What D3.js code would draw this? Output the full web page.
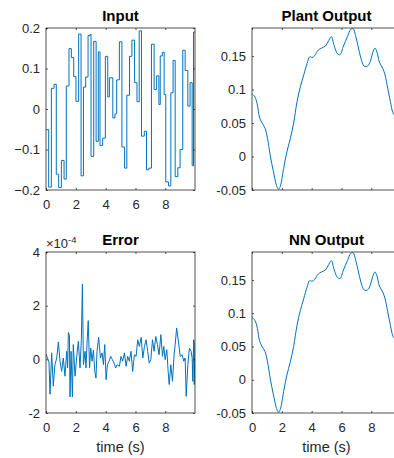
<!DOCTYPE html>
<html>
<head>
<meta charset="utf-8">
<script src="https://cdn.jsdelivr.net/npm/d3@7"></script>
<style>
  body { margin: 0; background: #fff; }
  svg { display: block; font-family: "Liberation Sans", Arial, sans-serif; }
</style>
</head>
<body>
<svg id="chart" width="394" height="458"></svg>
<script>
// ---- data ----
const tEnd = 9.99;

// input: step start times and held values
const inputT = [0, 0.18, 0.36, 0.54, 0.69, 0.85, 1.03, 1.21, 1.36, 1.54, 1.70, 1.86, 2.01, 2.19, 2.35,
  2.51, 2.66, 2.82, 2.95, 3.02, 3.20, 3.36, 3.51, 3.62, 3.80, 3.98, 4.14, 4.25, 4.48, 4.62, 4.74,
  4.92, 5.09, 5.27, 5.42, 5.60, 5.76, 5.94, 6.10, 6.25, 6.40, 6.59, 6.74, 6.90, 7.07, 7.25, 7.42,
  7.57, 7.66, 7.80, 7.92, 8.03, 8.21, 8.37, 8.52, 8.66, 8.84, 8.99, 9.17, 9.33, 9.51, 9.66, 9.80, 9.89];
const inputV = [-0.051, -0.193, 0.051, 0.061, -0.161, -0.194, -0.127, -0.173, 0.057, 0.149, 0.127, 0.08,
  0.019, 0.185, -0.165, 0.054, 0.079, 0.181, 0.184, -0.117, 0.167, -0.08, 0.141, -0.09, -0.072, 0.13,
  0.03, 0.077, -0.022, -0.012, 0.072, 0.166, -0.094, -0.146, 0.034, 0.13, 0.17, 0.065, 0.018, 0.193,
  -0.067, -0.055, -0.15, -0.146, 0.16, 0.048, 0.082, 0.011, 0.131, 0.14, 0.036, -0.18, -0.19, 0.04,
  0.12, -0.167, -0.145, -0.1, 0.145, 0.095, 0.007, 0.065, -0.14, 0.19];

// plant output (NN output is visually the same curve)
const plantT = [0, 0.2, 0.36, 0.5, 0.65, 0.88, 1.04, 1.22, 1.44, 1.67, 1.78, 1.89, 2.12, 2.34, 2.57,
  2.79, 3.02, 3.24, 3.47, 3.69, 3.87, 4.03, 4.21, 4.44, 4.66, 4.93, 5.09, 5.32, 5.5, 5.72, 5.9,
  6.13, 6.4, 6.62, 6.78, 6.96, 7.12, 7.3, 7.52, 7.75, 7.93, 8.09, 8.24, 8.38, 8.54, 8.76, 8.92,
  9.1, 9.28, 9.44, 9.59, 9.99];
const plantV = [0.094, 0.089, 0.077, 0.059, 0.051, 0.042, 0.027, 0.002, -0.023, -0.045, -0.049, -0.045,
  -0.018, 0.007, 0.027, 0.05, 0.082, 0.104, 0.122, 0.139, 0.149, 0.148, 0.151, 0.159, 0.162, 0.165,
  0.171, 0.179, 0.166, 0.154, 0.152, 0.165, 0.179, 0.19, 0.191, 0.179, 0.164, 0.147, 0.135, 0.135,
  0.142, 0.155, 0.162, 0.156, 0.141, 0.132, 0.122, 0.102, 0.082, 0.066, 0.061, 0.056];
const nnV = plantV.slice();

// error, in units of 1e-4
const errT = [0, 0.1, 0.2, 0.27, 0.38, 0.49, 0.6, 0.72, 0.83, 0.94, 1.05, 1.16, 1.27, 1.39, 1.45,
  1.5, 1.57, 1.61, 1.68, 1.77, 1.83, 1.95, 2.06, 2.17, 2.28, 2.37, 2.44, 2.51, 2.62, 2.68, 2.75,
  2.83, 2.92, 3.0, 3.09, 3.18, 3.27, 3.35, 3.42, 3.53, 3.65, 3.76, 3.85, 3.94, 4.03, 4.12, 4.23,
  4.34, 4.45, 4.56, 4.67, 4.78, 4.92, 5.03, 5.14, 5.26, 5.37, 5.48, 5.59, 5.7, 5.81, 5.93, 6.04,
  6.15, 6.26, 6.38, 6.49, 6.6, 6.71, 6.82, 6.92, 7.03, 7.14, 7.25, 7.36, 7.47, 7.58, 7.7, 7.81,
  7.9, 7.99, 8.1, 8.19, 8.26, 8.37, 8.48, 8.59, 8.66, 8.76, 8.89, 9.0, 9.13, 9.24, 9.33, 9.4,
  9.51, 9.62, 9.73, 9.8, 9.84, 9.9, 9.94, 9.99];
const errV = [0.2, 0.05, -0.1, -1.3, 0.24, -1.0, -0.2, 0.05, 0.65, -0.07, -0.45, 0.05, -0.63, 0.3,
  -0.32, 1.0, 0.9, -1.4, 0.3, -1.4, 0.55, -0.63, 0.1, 0.67, -0.32, 0.73, 2.8, -0.2, 0.3, -0.32,
  0.6, 1.44, -0.32, 0.42, -0.07, 0.35, -0.45, -0.7, 0.3, 0.82, 0.05, 0.24, -0.2, 0.55, -0.76,
  -0.2, -0.07, 0.11, -0.01, -0.14, -0.32, -0.2, -0.26, 0.11, -0.07, 0.24, -0.26, 0.11, -0.07,
  0.3, -0.45, 0.17, 0.11, 0.73, 0.48, 0.82, 0.05, 0.48, 0.73, 0.3, -0.14, -0.01, 0.73, 0.3, 0.85,
  0.55, 0.17, 0.92, 0.11, 0.48, -0.01, 0.36, -0.45, -0.94, -0.2, -0.82, 0.17, 0.55, 1.17, 0.6,
  0.11, 0.17, -0.07, 0.05, -1.38, -0.2, 0.42, 0.3, 0.05, -0.82, 0.73, -0.94, 0.67];

const xTicks = [0, 2, 4, 6, 8];
const inputTicks = [-0.2, -0.1, 0, 0.1, 0.2];
const outTicks = [-0.05, 0, 0.05, 0.1, 0.15];
const errTicks = [-2, 0, 2, 4];

// ---- drawing ----
const svg = d3.select('#chart');
const blue = '#0072BD';
const ink = '#262626';
const tl = 2; // tick length, drawn inward

function panel(o) {
  const g = svg.append('g').attr('transform', `translate(${o.x},${o.y})`);
  const x = d3.scaleLinear().domain([0, tEnd]).range([0, o.w]);
  const y = d3.scaleLinear().domain(o.yDomain).range([o.h, 0]);

  const clipId = 'clip' + o.id;
  g.append('clipPath').attr('id', clipId)
    .append('rect').attr('width', o.w).attr('height', o.h);

  const line = d3.line().x(d => x(d[0])).y(d => y(d[1])).curve(o.curve || d3.curveLinear);
  g.append('path')
    .datum(o.data)
    .attr('clip-path', `url(#${clipId})`)
    .attr('fill', 'none')
    .attr('stroke', blue)
    .attr('stroke-width', 1)
    .attr('stroke-linejoin', 'round')
    .attr('d', line);

  // axes with inward ticks on all sides
  const yl = g.append('g')
    .call(d3.axisLeft(y).tickValues(o.yTicks).tickSize(-tl).tickSizeOuter(0).tickPadding(6)
      .tickFormat(o.yFormat || (d => d)));
  const yr = g.append('g').attr('transform', `translate(${o.w},0)`)
    .call(d3.axisRight(y).tickValues(o.yTicks).tickSize(-tl).tickSizeOuter(0).tickFormat(''));
  const xb = g.append('g').attr('transform', `translate(0,${o.h})`)
    .call(d3.axisBottom(x).tickValues(xTicks).tickSize(-tl).tickSizeOuter(0).tickPadding(10)
      .tickFormat(o.xLabels ? (d => d) : ''));
  const xt = g.append('g')
    .call(d3.axisTop(x).tickValues(xTicks).tickSize(-tl).tickSizeOuter(0).tickFormat(''));

  [yl, yr, xb, xt].forEach(a => {
    a.selectAll('.domain').remove();
    a.selectAll('line').attr('stroke', ink).attr('stroke-width', 0.8);
    a.selectAll('text').attr('fill', ink).style('font-size', '13px')
      .style('font-family', '"Liberation Sans", Arial, sans-serif');
  });

  g.append('rect')
    .attr('width', o.w).attr('height', o.h)
    .attr('fill', 'none').attr('stroke', ink).attr('stroke-width', 0.8);

  g.append('text')
    .attr('x', o.w / 2).attr('y', -7)
    .attr('text-anchor', 'middle')
    .style('font-size', '15px').style('font-weight', 'bold')
    .attr('fill', '#000')
    .text(o.title);

  if (o.xTitle) {
    g.append('text')
      .attr('x', o.w / 2).attr('y', o.h + 39)
      .attr('text-anchor', 'middle')
      .style('font-size', '14.5px')
      .attr('fill', ink)
      .text(o.xTitle);
  }
  return g;
}

const inputPts = inputT.map((t, i) => [t, inputV[i]]);
inputPts.push([tEnd, inputV[inputV.length - 1]]);

panel({ id: 1, x: 46, y: 28, w: 149, h: 162, yDomain: [-0.2, 0.2], yTicks: inputTicks,
  data: inputPts, curve: d3.curveStepAfter, title: 'Input', xLabels: true,
  yFormat: d => d === 0 ? '0' : d3.format('.1f')(d) });

panel({ id: 2, x: 252, y: 28, w: 149, h: 162, yDomain: [-0.05, 0.192], yTicks: outTicks,
  data: plantT.map((t, i) => [t, plantV[i]]), curve: d3.curveCatmullRom,
  title: 'Plant Output', xLabels: false });

const errG = panel({ id: 3, x: 46, y: 252, w: 149, h: 161, yDomain: [-2, 4], yTicks: errTicks,
  data: errT.map((t, i) => [t, errV[i]]), title: 'Error', xLabels: true, xTitle: 'time (s)' });

panel({ id: 4, x: 252, y: 252, w: 149, h: 161, yDomain: [-0.05, 0.192], yTicks: outTicks,
  data: plantT.map((t, i) => [t, nnV[i]]), curve: d3.curveCatmullRom,
  title: 'NN Output', xLabels: true, xTitle: 'time (s)' });

// exponent marker of the error axis
const ex = errG.append('text').attr('x', 0).attr('y', -4)
  .style('font-size', '13px').attr('fill', ink);
ex.append('tspan').text('\u00d710');
ex.append('tspan').attr('dy', -5).style('font-size', '9.5px').text('-4');
</script>
</body>
</html>
